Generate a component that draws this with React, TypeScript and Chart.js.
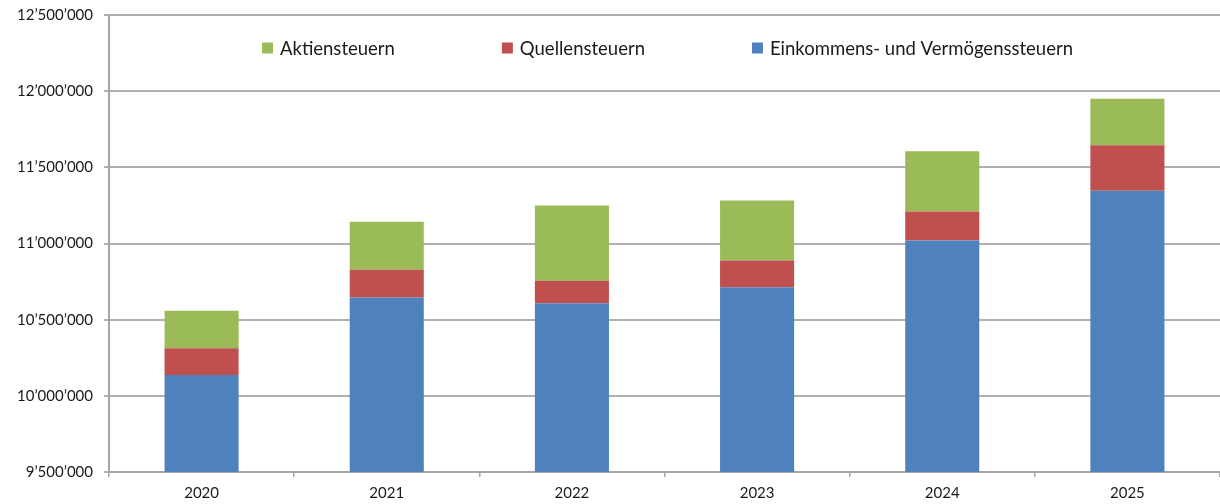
import React, { useEffect, useRef } from "react";
import { Chart, registerables } from "chart.js";

Chart.register(...registerables);

const categories = ["2020", "2021", "2022", "2023", "2024", "2025"];
const einkommensVermoegen = [10136000, 10645000, 10608000, 10713000, 11020000, 11347000];
const quellensteuern = [176000, 182000, 147000, 175000, 190000, 298000];
const aktiensteuern = [247000, 316000, 495000, 395000, 395000, 305000];
const seriesNames = ["Einkommens- und Vermögenssteuern", "Quellensteuern", "Aktiensteuern"];
const seriesColors = ["#4F81BD", "#C0504D", "#9BBB59"];
const yMin = 9500000;
const yMax = 12500000;
const yStep = 500000;

const fmt = (v: number) => {
  const s = Math.round(v).toString();
  return s.replace(/\B(?=(\d{3})+(?!\d))/g, "\u2019");
};

const insideLegend = {
  id: "insideLegend",
  afterDraw(chart: any) {
    const ctx = chart.ctx;
    const area = chart.chartArea;
    const ds = chart.data.datasets.slice().reverse();
    ctx.save();
    ctx.font = "18.5px Lato";
    ctx.textBaseline = "middle";
    ctx.textAlign = "left";
    const box = 11;
    const gapBoxText = 7;
    const gapItems = 107;
    let x = area.left + 153;
    const y = 48;
    ds.forEach((d: any) => {
      ctx.fillStyle = d.backgroundColor;
      ctx.fillRect(x, y - box / 2, box, box);
      x += box + gapBoxText;
      ctx.fillStyle = "#1a1a1a";
      ctx.fillText(d.label, x, y + 1);
      x += ctx.measureText(d.label).width + gapItems;
    });
    ctx.restore();
  },
};

export default function App() {
  const ref = useRef<HTMLCanvasElement>(null);
  useEffect(() => {
    document.body.style.margin = "0";
    const values = [einkommensVermoegen, quellensteuern, aktiensteuern];
    const chart = new Chart(ref.current!, {
      type: "bar",
      data: {
        labels: categories,
        datasets: values.map((v, i) => ({
          label: seriesNames[i],
          data: v,
          backgroundColor: seriesColors[i],
          borderWidth: 0,
          barPercentage: 0.4,
          categoryPercentage: 1,
        })),
      },
      options: {
        responsive: false,
        animation: false,
        layout: { padding: { top: 15, right: 0, left: 0, bottom: 0 } },
        plugins: { legend: { display: false }, tooltip: { enabled: false } },
        scales: {
          x: {
            stacked: true,
            grid: {
              drawOnChartArea: false,
              drawTicks: true,
              tickLength: 5,
              color: "#a6a6a6",
              lineWidth: 1.5,
            },
            border: { color: "#a6a6a6", width: 2 },
            ticks: { color: "#1a1a1a", font: { family: "Lato", size: 15 }, padding: 7 },
            afterFit: (s: any) => {
              s.height = 32;
            },
          },
          y: {
            stacked: true,
            min: yMin,
            max: yMax,
            ticks: {
              stepSize: yStep,
              color: "#1a1a1a",
              font: { family: "Lato", size: 15 },
              padding: 11,
              callback: (v: any) => fmt(Number(v)),
            },
            grid: { color: "#b0b0b0", lineWidth: 2, tickLength: 5 },
            border: { color: "#a6a6a6", width: 2 },
            afterFit: (s: any) => {
              s.width = 109;
              s.paddingTop = 0;
              s.paddingBottom = 0;
            },
          },
        },
      },
      plugins: [insideLegend],
    });
    return () => chart.destroy();
  }, []);
  return <canvas ref={ref} width={1220} height={504} style={{ display: "block" }} />;
}
